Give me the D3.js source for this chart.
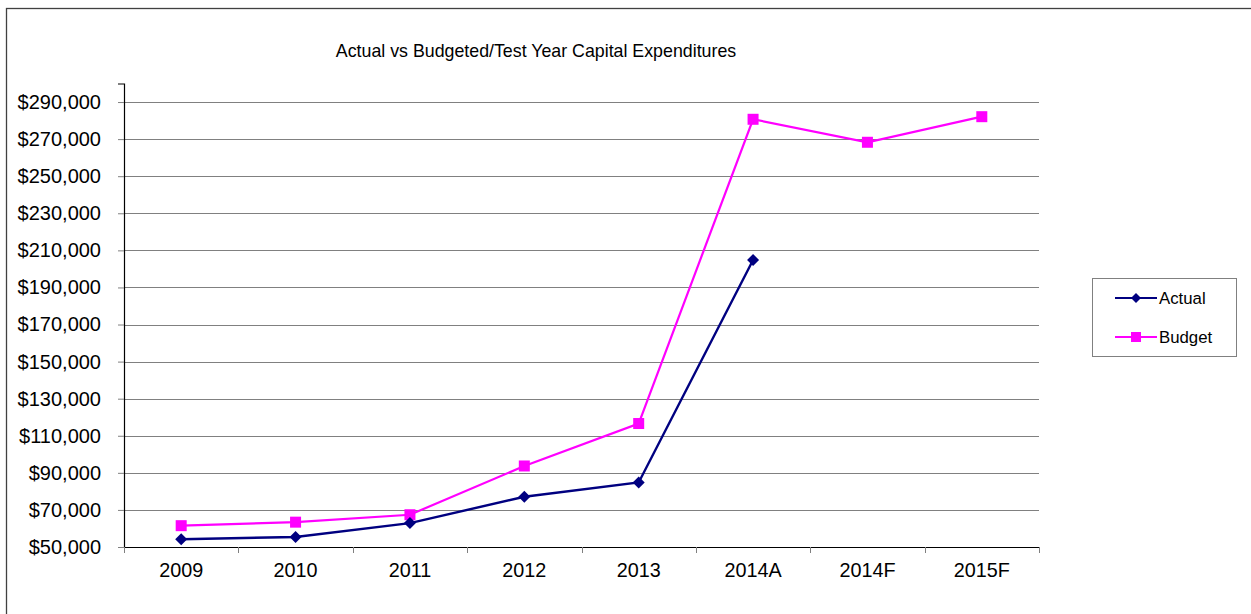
<!DOCTYPE html>
<html>
<head>
<meta charset="utf-8">
<script src="https://cdn.jsdelivr.net/npm/d3@7"></script>
<style>
  html, body { margin: 0; padding: 0; background: #fff; }
  svg { display: block; font-family: "Liberation Sans", Arial, sans-serif; }
</style>
</head>
<body>
<svg id="chart" width="1251" height="614"></svg>
<script>
const categories = ["2009", "2010", "2011", "2012", "2013", "2014A", "2014F", "2015F"];
const actualValues = [54200, 55400, 62900, 77100, 84800, 204800, null, null];
const budgetValues = [61500, 63400, 67400, 93700, 116600, 280700, 268300, 282100];
const yTickValues = [50000, 70000, 90000, 110000, 130000, 150000, 170000, 190000, 210000, 230000, 250000, 270000, 290000];
const title = "Actual vs Budgeted/Test Year Capital Expenditures";
const seriesNames = ["Actual", "Budget"];

const svg = d3.select("#chart");
const W = 1251, H = 614;
const plot = { left: 124, right: 1039, top: 83.5, bottom: 547 };

// outer chart border
svg.append("rect")
  .attr("x", 6.5).attr("y", 8.5)
  .attr("width", W).attr("height", H)
  .attr("fill", "none").attr("stroke", "#404040").attr("stroke-width", 1.3);

const x = d3.scaleBand().domain(categories).range([plot.left, plot.right]).paddingInner(0).paddingOuter(0);
const y = d3.scaleLinear().domain([50000, 300000]).range([plot.bottom, plot.top]);

// gridlines
svg.append("g")
  .selectAll("line")
  .data(yTickValues.filter(v => v > 50000))
  .join("line")
  .attr("x1", plot.left).attr("x2", plot.right)
  .attr("y1", d => Math.round(y(d)) + 0.5).attr("y2", d => Math.round(y(d)) + 0.5)
  .attr("stroke", "#808080").attr("stroke-width", 1);

// y axis
const fmt = d => "$" + d3.format(",")(d);
const yAxis = svg.append("g")
  .attr("transform", `translate(${plot.left},0)`)
  .call(d3.axisLeft(y).tickValues(yTickValues).tickFormat(fmt).tickSize(6).tickPadding(17));
yAxis.select(".domain").attr("stroke", "#000").attr("stroke-width", 1.2);
yAxis.selectAll(".tick line").attr("stroke", "#808080");
yAxis.selectAll("text").attr("font-size", "20px").attr("fill", "#000")
  .attr("font-family", "Liberation Sans, Arial, sans-serif");

// x axis
const xAxis = svg.append("g")
  .attr("transform", `translate(0,${plot.bottom})`)
  .call(d3.axisBottom(x).tickSize(0).tickPadding(16));
xAxis.select(".domain").attr("stroke", "#000").attr("stroke-width", 1.2);
xAxis.selectAll("text").attr("font-size", "19.8px").attr("fill", "#000")
  .attr("font-family", "Liberation Sans, Arial, sans-serif");
// category boundary ticks
const boundaries = categories.map(c => x(c)).concat([x(categories[categories.length - 1]) + x.bandwidth()]);
svg.append("g").selectAll("line").data(boundaries).join("line")
  .attr("x1", d => Math.round(d) + 0.5).attr("x2", d => Math.round(d) + 0.5)
  .attr("y1", plot.bottom).attr("y2", plot.bottom + 6)
  .attr("stroke", "#808080");

const cx = c => x(c) + x.bandwidth() / 2;

// lines
const lineGen = d3.line()
  .defined(d => d.v != null)
  .x(d => cx(d.c)).y(d => y(d.v));

const actualData = categories.map((c, i) => ({ c, v: actualValues[i] }));
const budgetData = categories.map((c, i) => ({ c, v: budgetValues[i] }));

svg.append("path").datum(budgetData).attr("d", lineGen)
  .attr("fill", "none").attr("stroke", "#FF00FF").attr("stroke-width", 2.2);
svg.append("path").datum(actualData).attr("d", lineGen)
  .attr("fill", "none").attr("stroke", "#000080").attr("stroke-width", 2.4);

// markers
const sq = 11;
svg.append("g").selectAll("rect").data(budgetData.filter(d => d.v != null)).join("rect")
  .attr("x", d => cx(d.c) - sq / 2).attr("y", d => y(d.v) - sq / 2)
  .attr("width", sq).attr("height", sq).attr("fill", "#FF00FF");
const dm = 6;
svg.append("g").selectAll("path").data(actualData.filter(d => d.v != null)).join("path")
  .attr("d", d => {
    const px = cx(d.c), py = y(d.v);
    return `M${px},${py - dm}L${px + dm},${py}L${px},${py + dm}L${px - dm},${py}Z`;
  })
  .attr("fill", "#000080");

// title
svg.append("text")
  .attr("x", 536).attr("y", 57)
  .attr("text-anchor", "middle")
  .attr("font-size", "17.8px").attr("fill", "#000")
  .text(title);

// legend
const lg = svg.append("g");
lg.append("rect").attr("x", 1092.5).attr("y", 278.5).attr("width", 144).attr("height", 78)
  .attr("fill", "#fff").attr("stroke", "#808080").attr("stroke-width", 1);
const legendRows = [
  { name: seriesNames[0], color: "#000080", type: "diamond", y: 298 },
  { name: seriesNames[1], color: "#FF00FF", type: "square", y: 337 }
];
legendRows.forEach(r => {
  lg.append("line").attr("x1", 1115).attr("x2", 1157).attr("y1", r.y).attr("y2", r.y)
    .attr("stroke", r.color).attr("stroke-width", 2);
  if (r.type === "diamond") {
    lg.append("path").attr("d", `M1136,${r.y - 5}L1141,${r.y}L1136,${r.y + 5}L1131,${r.y}Z`).attr("fill", r.color);
  } else {
    lg.append("rect").attr("x", 1131).attr("y", r.y - 5).attr("width", 10).attr("height", 10).attr("fill", r.color);
  }
  lg.append("text").attr("x", 1159).attr("y", r.y + 6).attr("font-size", "16.8px").attr("fill", "#000").text(r.name);
});
</script>
</body>
</html>
